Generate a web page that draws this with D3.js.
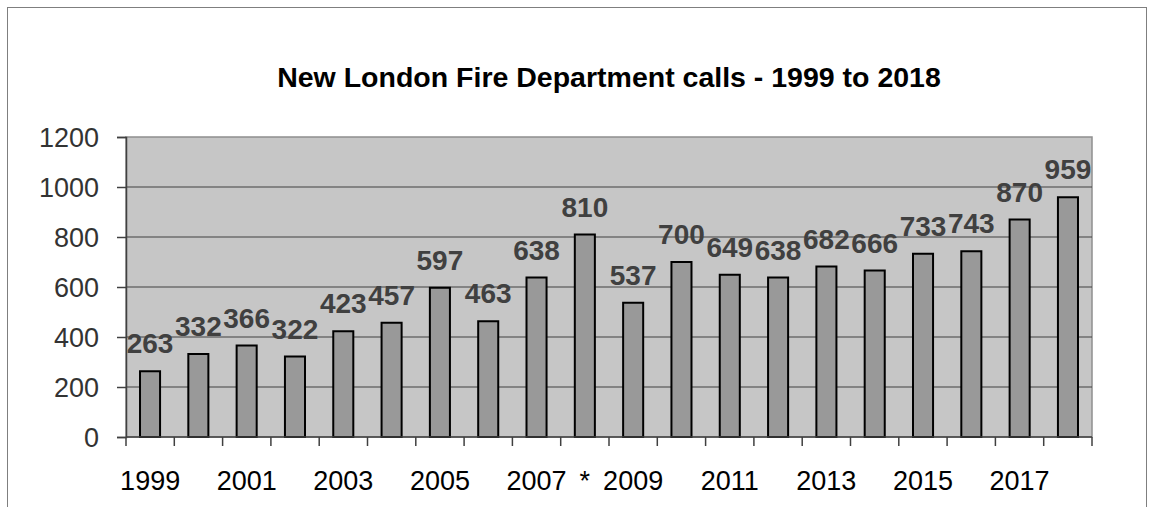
<!DOCTYPE html>
<html><head><meta charset="utf-8">
<script src="https://cdn.jsdelivr.net/npm/d3@7"></script>
<style>body{margin:0;background:#fff}svg{display:block}</style>
</head><body>
<svg id="c" width="1154" height="507"></svg>
<script>
const years = [1999,2000,2001,2002,2003,2004,2005,2006,2007,2008,2009,2010,2011,2012,2013,2014,2015,2016,2017,2018];
const calls = [263,332,366,322,423,457,597,463,638,810,537,700,649,638,682,666,733,743,870,959];
const tickLabels = ["1999","","2001","","2003","","2005","","2007","*","2009","","2011","","2013","","2015","","2017",""];
const yTicks = [0,200,400,600,800,1000,1200];
const title = "New London Fire Department calls - 1999 to 2018";

const svg = d3.select("#c");
const L = 126, R = 1092, T = 137, B = 437;
svg.append("rect").attr("x",7.5).attr("y",7.5).attr("width",1139).attr("height",520)
  .attr("fill","#fff").attr("stroke","#7f7f7f").attr("stroke-width",1);

const x = d3.scaleBand().domain(years).range([L,R]).paddingInner(0.585).paddingOuter(0.29);
const xb = d3.scaleBand().domain(years).range([L,R]);
const y = d3.scaleLinear().domain([0,1200]).range([B,T]);

svg.append("rect").attr("x",L).attr("y",T).attr("width",R-L).attr("height",B-T)
  .attr("fill","#c6c6c6").attr("stroke","#8f8f8f").attr("stroke-width",1.5);

svg.append("g").selectAll("line").data(yTicks.filter(d=>d>0 && d<1200)).join("line")
  .attr("x1",L).attr("x2",R).attr("y1",d=>y(d)).attr("y2",d=>y(d))
  .attr("stroke","#404040").attr("stroke-width",1.2);

svg.append("g").selectAll("rect").data(calls).join("rect")
  .attr("x",(d,i)=>x(years[i])).attr("width",x.bandwidth())
  .attr("y",d=>y(d)).attr("height",d=>B-y(d))
  .attr("fill","#999999").attr("stroke","#000").attr("stroke-width",2);

svg.append("g").selectAll("text").data(calls).join("text")
  .attr("x",(d,i)=>x(years[i])+x.bandwidth()/2).attr("y",d=>y(d)-18)
  .attr("text-anchor","middle").attr("font-family","Liberation Sans, Arial, sans-serif")
  .attr("font-weight","bold").attr("font-size",28).attr("fill","#404040")
  .text(d=>d);

// axes
const ya = d3.axisLeft(y).tickValues(yTicks).tickFormat(d3.format("d")).tickSize(9).tickPadding(18);
const gy = svg.append("g").attr("transform",`translate(${L},0)`).call(ya);
gy.select(".domain").attr("stroke","#404040").attr("stroke-width",1.5);
gy.selectAll(".tick line").attr("stroke","#404040").attr("stroke-width",1.5);
gy.selectAll("text").attr("font-family","Liberation Sans, Arial, sans-serif").attr("font-size",27).attr("fill","#333").attr("dy","0.35em");

svg.append("line").attr("x1",L).attr("x2",R).attr("y1",B).attr("y2",B).attr("stroke","#404040").attr("stroke-width",1.5);
const bounds = years.map(d=>xb(d)).concat([R]);
svg.append("g").selectAll("line").data(bounds).join("line")
  .attr("x1",d=>d).attr("x2",d=>d).attr("y1",B).attr("y2",B+9)
  .attr("stroke","#404040").attr("stroke-width",1.5);
svg.append("g").selectAll("text").data(tickLabels).join("text")
  .attr("x",(d,i)=>xb(years[i])+xb.bandwidth()/2).attr("y",490)
  .attr("text-anchor","middle").attr("font-family","Liberation Sans, Arial, sans-serif")
  .attr("font-size",27).attr("fill","#000").text(d=>d);

svg.append("text").attr("x",609).attr("y",87).attr("text-anchor","middle")
  .attr("font-family","Liberation Sans, Arial, sans-serif").attr("font-weight","bold")
  .attr("font-size",28.5).attr("fill","#000").text(title);
</script>
</body></html>
